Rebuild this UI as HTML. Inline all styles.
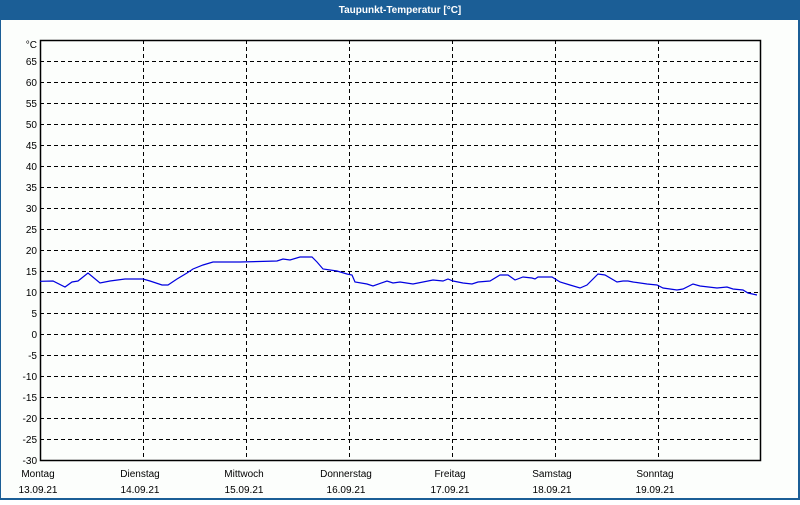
<!DOCTYPE html>
<html><head><meta charset="utf-8"><style>
body{margin:0;width:800px;height:500px;overflow:hidden;background:#fff;font-family:"Liberation Sans",sans-serif}
</style></head><body>
<svg width="800" height="500" xmlns="http://www.w3.org/2000/svg" font-family="Liberation Sans, sans-serif" font-size="10">
<rect x="0" y="0" width="800" height="500" fill="#1b5e96"/>
<rect x="1" y="20" width="797" height="478" fill="#fcfefc"/>
<text x="400" y="13" fill="#fff" font-weight="bold" text-anchor="middle" font-size="10">Taupunkt-Temperatur [°C]</text>
<g stroke="#000" stroke-dasharray="4,3" stroke-width="1">
<path d="M40 61.5H760M40 82.5H760M40 103.5H760M40 124.5H760M40 145.5H760M40 166.5H760M40 187.5H760M40 208.5H760M40 229.5H760M40 250.5H760M40 271.5H760M40 292.5H760M40 313.5H760M40 334.5H760M40 355.5H760M40 376.5H760M40 397.5H760M40 418.5H760M40 439.5H760"/>
<path d="M143.5 40V460M246.5 40V460M349.5 40V460M452.5 40V460M555.5 40V460M658.5 40V460"/>
</g>
<rect x="40.5" y="40.5" width="720" height="420" fill="none" stroke="#000" stroke-width="1.5"/>
<g text-anchor="end" fill="#000">
<text x="37" y="48">°C</text>
<text x="37" y="65">65</text><text x="37" y="86">60</text><text x="37" y="107">55</text><text x="37" y="128">50</text><text x="37" y="149">45</text><text x="37" y="170">40</text><text x="37" y="191">35</text><text x="37" y="212">30</text><text x="37" y="233">25</text><text x="37" y="254">20</text><text x="37" y="275">15</text><text x="37" y="296">10</text><text x="37" y="317">5</text><text x="37" y="338">0</text><text x="37" y="359">-5</text><text x="37" y="380">-10</text><text x="37" y="401">-15</text><text x="37" y="422">-20</text><text x="37" y="443">-25</text><text x="37" y="464">-30</text>
</g>
<g text-anchor="middle" fill="#000">
<text x="38" y="477">Montag</text><text x="38" y="493">13.09.21</text>
<text x="140" y="477">Dienstag</text><text x="140" y="493">14.09.21</text>
<text x="244" y="477">Mittwoch</text><text x="244" y="493">15.09.21</text>
<text x="346" y="477">Donnerstag</text><text x="346" y="493">16.09.21</text>
<text x="450" y="477">Freitag</text><text x="450" y="493">17.09.21</text>
<text x="552" y="477">Samstag</text><text x="552" y="493">18.09.21</text>
<text x="655" y="477">Sonntag</text><text x="655" y="493">19.09.21</text>
</g>
<polyline fill="none" stroke="#0000e0" stroke-width="1.2" points="40,281.3 53,281 65,287 72,282 78,281 88,273 100,283 110,281 125,279 143,279 150,281 162,285 168,285 177,279 187,273 193,269 203,265 213,262 227,262 240,262 277,261 283,259 290,260 300,257 312,257 317,262 323,269 337,271 347,274 352,275 355,282 367,284 373,286 387,281 393,283 400,282 413,284 433,280 443,281 448,279 453,281 463,283 472,284 478,282 490,281 500,275 508,275 515,280 523,277 532,278 535,279 538,277 552,277 560,282 570,285 580,288 587,285 598,274 605,275 617,282 623,281 628,281 633,282 647,284 657,285 663,288 677,290 683,289 693,284 700,286 717,288 727,287 733,289 743,290 748,293 757,295"/>
</svg>
</body></html>
